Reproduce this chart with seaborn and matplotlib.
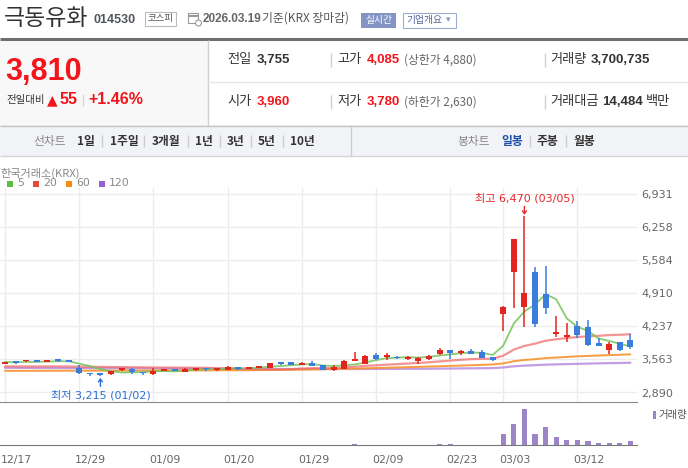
import numpy as np
import pandas as pd
import matplotlib
matplotlib.use('Agg')
import matplotlib.pyplot as plt
import matplotlib.patches as mpatches
import matplotlib.transforms as mtransforms
import seaborn as sns

# ================= 설정 =================
sns.set_style("white")
plt.rcParams['font.family'] = ['DejaVu Sans', 'Noto Sans CJK KR']
plt.rcParams['axes.unicode_minus'] = False
KR = ['Noto Sans CJK KR', 'DejaVu Sans']
NUM = ['Liberation Sans', 'Noto Sans CJK KR']
# =======================================

# 1. 데이터 (일봉, 12/17 ~ 03/19)
dates = ['12/17', '12/18', '12/19', '12/22', '12/23', '12/24', '12/26', '12/29', '12/30', '01/02',
         '01/05', '01/06', '01/07', '01/08', '01/09', '01/12', '01/13', '01/14', '01/15', '01/16',
         '01/19', '01/20', '01/21', '01/22', '01/23', '01/26', '01/27', '01/28', '01/29', '01/30',
         '02/02', '02/03', '02/04', '02/05', '02/06', '02/09', '02/10', '02/11', '02/12', '02/13',
         '02/19', '02/20', '02/23', '02/24', '02/25', '02/26', '02/27', '03/03', '03/04', '03/05',
         '03/06', '03/09', '03/10', '03/11', '03/12', '03/13', '03/16', '03/17', '03/18', '03/19']

opens = [3465, 3500, 3520, 3520, 3505, 3555, 3550, 3380, 3270, 3255,
         3265, 3350, 3375, 3290, 3260, 3335, 3345, 3310, 3345, 3375,
         3355, 3355, 3410, 3370, 3395, 3395, 3510, 3510, 3455, 3490,
         3440, 3345, 3375, 3530, 3470, 3650, 3610, 3620, 3570, 3530,
         3570, 3670, 3755, 3690, 3740, 3705, 3605, 4490, 5345, 4635,
         5335, 4890, 4080, 4010, 4240, 4220, 3890, 3755, 3910, 3960]
highs = [3515, 3525, 3550, 3540, 3555, 3565, 3560, 3450, 3290, 3275,
         3330, 3395, 3380, 3300, 3380, 3375, 3370, 3385, 3390, 3390,
         3370, 3420, 3415, 3415, 3430, 3495, 3515, 3515, 3505, 3525,
         3455, 3440, 3545, 3710, 3660, 3690, 3685, 3630, 3635, 3610,
         3660, 3790, 3760, 3760, 3765, 3755, 3615, 4640, 6010, 6470,
         5430, 5460, 4445, 4295, 4340, 4365, 4000, 3920, 3925, 4085]
lows = [3460, 3470, 3505, 3500, 3500, 3515, 3500, 3275, 3235, 3215,
        3250, 3330, 3270, 3250, 3255, 3320, 3320, 3305, 3325, 3335,
        3325, 3350, 3355, 3365, 3380, 3390, 3455, 3445, 3450, 3425,
        3340, 3335, 3365, 3520, 3465, 3560, 3545, 3580, 3560, 3465,
        3555, 3655, 3565, 3660, 3670, 3585, 3530, 4145, 4610, 4215,
        4225, 4485, 4025, 3920, 3990, 3835, 3825, 3670, 3740, 3780]
closes = [3510, 3495, 3530, 3510, 3550, 3530, 3510, 3280, 3260, 3245,
          3325, 3365, 3300, 3280, 3330, 3350, 3335, 3375, 3385, 3365,
          3365, 3410, 3370, 3410, 3405, 3485, 3470, 3450, 3495, 3435,
          3345, 3415, 3530, 3575, 3640, 3570, 3625, 3585, 3620, 3600,
          3640, 3760, 3700, 3740, 3680, 3590, 3550, 4630, 6005, 4910,
          4285, 4600, 4120, 4055, 4065, 3855, 3840, 3875, 3755, 3810]
# 거래량 (백만 주)
volumes = [0.1, 0.1, 0.1, 0.1, 0.1, 0.1, 0.1, 0.15, 0.1, 0.1,
           0.1, 0.1, 0.1, 0.1, 0.1, 0.1, 0.1, 0.1, 0.1, 0.1,
           0.1, 0.1, 0.1, 0.1, 0.1, 0.1, 0.1, 0.1, 0.1, 0.1,
           0.1, 0.1, 0.15, 1.3, 0.2, 0.15, 0.1, 0.1, 0.1, 0.1,
           0.15, 1.1, 1.1, 0.2, 0.15, 0.2, 0.15, 10.3, 19.5, 33.5,
           10.3, 16.8, 7.5, 4.9, 4.9, 4.0, 2.3, 2.3, 1.4, 3.7]

# 이동평균 (차트에서 읽은 값: 이전 데이터가 필요한 구간)
ma20_head = [3420, 3420, 3419, 3419, 3420, 3420, 3419, 3416, 3413, 3410,
             3407, 3405, 3402, 3400, 3398, 3396, 3395, 3394, 3392]
ma60 = [3330, 3330, 3331, 3331, 3332, 3332, 3333, 3333, 3333, 3334,
        3334, 3335, 3335, 3336, 3336, 3337, 3337, 3338, 3338, 3339,
        3340, 3341, 3342, 3343, 3345, 3347, 3349, 3351, 3354, 3358,
        3362, 3366, 3371, 3376, 3381, 3387, 3393, 3399, 3405, 3411,
        3417, 3423, 3430, 3437, 3444, 3452, 3460, 3481, 3525, 3551,
        3567, 3588, 3601, 3613, 3625, 3633, 3641, 3650, 3657, 3665]
ma120 = [3392, 3391, 3390, 3389, 3388, 3387, 3386, 3385, 3384, 3383,
         3382, 3381, 3380, 3379, 3378, 3377, 3376, 3375, 3374, 3373,
         3372, 3371, 3370, 3369, 3368, 3368, 3367, 3367, 3366, 3366,
         3366, 3366, 3367, 3367, 3368, 3368, 3369, 3370, 3371, 3372,
         3373, 3375, 3377, 3379, 3381, 3383, 3385, 3398, 3422, 3436,
         3445, 3455, 3461, 3467, 3472, 3477, 3482, 3486, 3490, 3494]

tick_dates = ['12/17', '12/29', '01/09', '01/20', '01/29', '02/09', '02/23', '03/03', '03/12']
price_ticks = [2890, 3563, 4237, 4910, 5584, 6258, 6931]

# 2. 데이터프레임
df = pd.DataFrame({'date': dates, 'open': opens, 'high': highs, 'low': lows,
                   'close': closes, 'volume': volumes, 'ma60': ma60, 'ma120': ma120})
df['idx'] = np.arange(len(df))
df['ma5'] = df['close'].rolling(5, min_periods=1).mean()
df['ma20'] = df['close'].rolling(20).mean()
df.loc[:len(ma20_head) - 1, 'ma20'] = ma20_head
tick_idx = [dates.index(d) for d in tick_dates]

RED = '#e2261d'
BLUE = '#3a7ddc'

# 3. 그림
W, H = 688, 468
fig = plt.figure(figsize=(W / 100, H / 100), dpi=100)
bg = fig.add_axes([0, 0, 1, 1])
bg.set_xlim(0, W)
bg.set_ylim(H, 0)
bg.axis('off')


def txt(x, y, s, size, color='#333333', family=KR, weight='normal', ha='left'):
    bg.text(x, y, s, fontsize=size, color=color, family=family,
            fontweight=weight, ha=ha, va='center')


def box(x0, y0, x1, y1, fc='white', ec='none', lw=1):
    bg.add_patch(mpatches.Rectangle((x0, y0), x1 - x0, y1 - y0, fc=fc, ec=ec, lw=lw))


def hline(y, x0, x1, color, lw=1):
    bg.plot([x0, x1], [y, y], color=color, lw=lw, solid_capstyle='butt')


def vline(x, y0, y1, color, lw=1):
    bg.plot([x, x], [y0, y1], color=color, lw=lw, solid_capstyle='butt')


# --- 상단 제목 ---
txt(4, 18.5, '극동유화', 16.5, '#333333')
txt(93, 20, '014530', 9, '#50545c', NUM, 'bold')
box(144.5, 11.5, 175.5, 25.5, 'white', '#bbbbbb', 0.8)
txt(160, 18.5, '코스피', 6.8, '#555555', ha='center')
box(188, 13, 198, 23, 'white', '#999999', 0.8)
hline(15.5, 188, 198, '#999999', 1.5)
bg.add_patch(mpatches.Circle((198.5, 23), 3, fc='white', ec='#999999', lw=0.8))
txt(203, 18.5, '2026.03.19', 8.5, '#666666', NUM, 'bold')
txt(262, 18.5, '기준(KRX 장마감)', 8.5, '#555555')
box(361, 13, 396, 28, '#8494c4', 'none')
txt(378.5, 20.5, '실시간', 7, 'white', ha='center')
box(402.5, 13, 455.5, 27.5, 'white', '#9fadd3', 0.8)
txt(406, 20, '기업개요', 7, '#50629a')
txt(446, 20, '▾', 6.5, '#8a97bd', ['DejaVu Sans'])
hline(38.5, 0, W, '#6d6f73', 2.2)

# --- 시세 영역 ---
box(0, 40, 208, 125, '#f8f8f8')
vline(208, 40, 125, '#cfcfcf')
hline(82, 208, W, '#e6e6e6')
txt(5, 72, '3,810', 22, '#f2161c', NUM, 'bold')
txt(6, 100, '전일대비', 7.5, '#333333')
txt(47, 100, '▲', 10, '#f2161c', ['DejaVu Sans'])
txt(60, 100, '55', 11.5, '#f2161c', NUM, 'bold')
vline(83, 94, 106, '#d8d8d8')
txt(88, 100, '+1.46%', 11.5, '#f2161c', NUM, 'bold')

rows = [
    (60, [(227, '전일', '#333333', KR, 'normal', 9.5), (257, '3,755', '#333333', NUM, 'bold', 9.5),
          (337, '고가', '#333333', KR, 'normal', 9.5), (367, '4,085', '#f2161c', NUM, 'bold', 9.5),
          (404, '(상한가 4,880)', '#666666', KR, 'normal', 8.5),
          (550, '거래량', '#333333', KR, 'normal', 9.5), (591, '3,700,735', '#333333', NUM, 'bold', 9.5)]),
    (102, [(227, '시가', '#333333', KR, 'normal', 9.5), (257, '3,960', '#f2161c', NUM, 'bold', 9.5),
           (337, '저가', '#333333', KR, 'normal', 9.5), (367, '3,780', '#f2161c', NUM, 'bold', 9.5),
           (404, '(하한가 2,630)', '#666666', KR, 'normal', 8.5),
           (550, '거래대금', '#333333', KR, 'normal', 9.5), (602, '14,484', '#333333', NUM, 'bold', 9.5),
           (646, '백만', '#333333', KR, 'normal', 9.5)]),
]
for y, items in rows:
    for x, s, c, fam, wt, sz in items:
        txt(x, y, s, sz, c, fam, wt)
    vline(330.5, y - 7, y + 7, '#d0d0d0')
    vline(544.5, y - 7, y + 7, '#d0d0d0')

# --- 기간 선택 바 ---
box(0, 125, W, 156, '#f2f3f7')
hline(125.5, 0, W, '#c4c4c4')
hline(156, 0, W, '#d6d6d6')
vline(351, 125, 156, '#cccccc')
txt(33, 141, '선차트', 8.5, '#888888')
for x, s in [(77, '1일'), (110, '1주일'), (152, '3개월'), (195, '1년'),
             (227, '3년'), (258, '5년'), (290, '10년')]:
    txt(x, 141, s, 8.5, '#333333', weight='bold')
for x in [102, 144, 188, 220, 251, 283]:
    vline(x, 135, 147, '#cccccc')
txt(457, 141, '봉차트', 8.5, '#888888')
txt(501, 141, '일봉', 8.5, '#1f4fa8', weight='bold')
txt(537, 141, '주봉', 8.5, '#333333', weight='bold')
txt(573, 141, '월봉', 8.5, '#333333', weight='bold')
vline(530, 135, 147, '#cccccc')
vline(566, 135, 147, '#cccccc')

# --- 차트 범례 ---
txt(0, 173.5, '한국거래소(KRX)', 8, '#888888')
for x, c, s in [(7, '#5cbe3e', '5'), (33, '#ea4540', '20'), (66, '#f58a14', '60'), (99, '#9b5fcf', '120')]:
    box(x, 180.5, x + 6, 186.5, c)
    txt(x + 10, 183.5, s, 7.8, '#888888', ['DejaVu Sans'])

# 4. 가격 차트
AX_L, AX_R = 0, 637
PX_DAY = 10.6
x_lo = -5 / PX_DAY
x_hi = x_lo + (AX_R - AX_L) / PX_DAY
top_px, bot_px = 188, 402
won_px = 20.31
y_hi = 2890 + (392.5 - top_px) * won_px
y_lo = 2890 - (bot_px - 392.5) * won_px

ax = fig.add_axes([AX_L / W, 1 - bot_px / H, (AX_R - AX_L) / W, (bot_px - top_px) / H])
ax.set_facecolor('none')
ax.set_xlim(x_lo, x_hi)
ax.set_ylim(y_lo, y_hi)
for s in ax.spines.values():
    s.set_visible(False)
ax.set_xticks(tick_idx)
ax.set_xticklabels([])
ax.set_yticks(price_ticks)
ax.set_yticklabels([f'{v:,}' for v in price_ticks])
ax.yaxis.tick_right()
ax.tick_params(axis='both', length=0)
ax.tick_params(axis='y', pad=3, labelsize=8, labelcolor='#666666')
ax.grid(True, color='#ececec', lw=1)
ax.set_axisbelow(True)

ma_styles = [('ma120', '#b585dd', 1.6, 0.8), ('ma60', '#f7932a', 1.4, 0.9),
             ('ma20', '#f06666', 1.6, 0.7), ('ma5', '#73c35a', 1.3, 0.85)]
for col, c, lw, a in ma_styles:
    sns.lineplot(data=df, x='idx', y=col, ax=ax, color=c, lw=lw, alpha=a, legend=False, zorder=2)
ax.set_xlabel('')
ax.set_ylabel('')

up = df['close'] >= df['open']
colors = np.where(up, RED, BLUE)
body_lo = np.minimum(df['open'], df['close'])
body_h = np.maximum((df['close'] - df['open']).abs(), 1.6 * won_px)
ax.vlines(df['idx'], df['low'], df['high'], colors=colors, lw=1.1, zorder=3)
ax.bar(df['idx'], body_h, bottom=body_lo, width=0.57, color=colors, lw=0, zorder=4)

i_hi = int(df['high'].idxmax())
i_lo = int(df['low'].idxmin())
ax.annotate(f"최고 {df['high'][i_hi]:,} ({dates[i_hi]})", xy=(i_hi, df['high'][i_hi]),
            xytext=(0, 9.5), textcoords='offset points', ha='center', va='bottom',
            color='#e8262b', fontsize=8,
            arrowprops=dict(arrowstyle='->,head_length=0.25,head_width=0.18', color='#e8262b',
                            lw=1, shrinkA=0, shrinkB=1))
ax.annotate(f"최저 {df['low'][i_lo]:,} ({dates[i_lo]})", xy=(i_lo, df['low'][i_lo]),
            xytext=(0, -9.5), textcoords='offset points', ha='center', va='top',
            color='#2c6fd6', fontsize=8,
            arrowprops=dict(arrowstyle='->,head_length=0.25,head_width=0.18', color='#2c6fd6',
                            lw=1, shrinkA=0, shrinkB=1))

# 5. 거래량 차트
vtop_px, vbot_px = 402, 445
vax = fig.add_axes([AX_L / W, 1 - vbot_px / H, (AX_R - AX_L) / W, (vbot_px - vtop_px) / H])
vax.set_facecolor('none')
vax.set_xlim(x_lo, x_hi)
vax.set_ylim(0, max(volumes) * 43 / 36)
vax.bar(df['idx'], df['volume'], width=0.5, color='#9b85c6', lw=0)
for side in ['left', 'right']:
    vax.spines[side].set_visible(False)
vax.spines['top'].set_color('#8a8a8a')
vax.spines['bottom'].set_color('#7a7a7a')
vax.set_yticks([])
vax.set_xticks(tick_idx)
vax.set_xticklabels(tick_dates)
vax.tick_params(axis='x', length=4, color='#7a7a7a', labelsize=7.8, labelcolor='#666666', pad=3)
shift = mtransforms.ScaledTranslation(-4 / 100, 0, fig.dpi_scale_trans)
for lab in vax.get_xticklabels():
    lab.set_horizontalalignment('left')
    lab.set_transform(lab.get_transform() + shift)

box(653, 411, 656, 419, '#9b85c6')
txt(658, 415, '거래량', 7.5, '#555555')

fig.savefig('out.png', dpi=100)
